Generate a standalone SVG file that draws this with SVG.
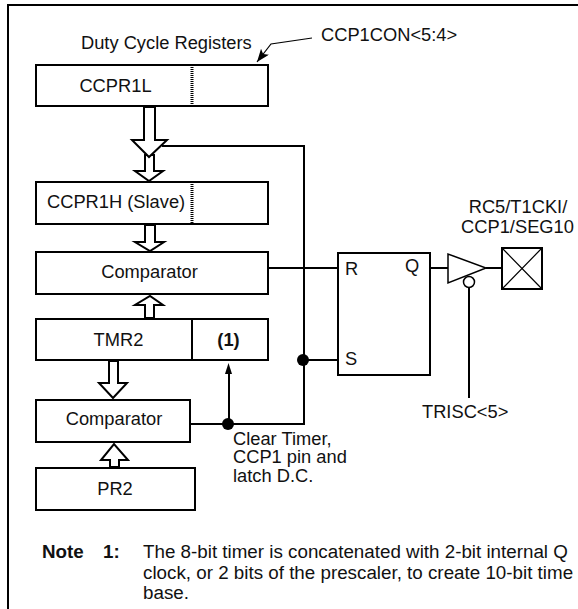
<svg xmlns="http://www.w3.org/2000/svg" width="578" height="609" viewBox="0 0 578 609">
<defs>
<marker id="ah" markerUnits="userSpaceOnUse" markerWidth="14" markerHeight="12" refX="13" refY="5" orient="auto"><path d="M0 0L13 5L0 10L3 5Z" fill="#000"/></marker>
</defs>
<style>
text{font-family:"Liberation Sans",Arial,sans-serif;font-size:18.3px;fill:#111}
.b{fill:#fff;stroke:#000;stroke-width:2}
.l{fill:none;stroke:#000;stroke-width:2}
.t{fill:none;stroke:#000;stroke-width:1.200}
.a{fill:#fff;stroke:#000;stroke-width:2}
.d{fill:none;stroke:#000;stroke-width:3;stroke-dasharray:1 1}
.m{text-anchor:middle}
.bold{font-weight:bold}
.n{font-size:18.800px}
</style>
<rect width="578" height="609" fill="#fff"/>
<path id="frame" class="l" d="M8 609V5H578"/>
<text x="81" y="49">Duty Cycle Registers</text>
<text x="321" y="41">CCP1CON&lt;5:4&gt;</text>
<g id="connectors">
<path class="t" d="M312 38L271 44L257 62" marker-end="url(#ah)"/>
<path class="l" d="M162 146H304V424H229"/>
<path class="l" d="M268 268H338"/>
<path class="l" d="M304 360H338"/>
<path class="l" d="M188 424H229"/>
<path class="l" d="M229 424V370"/>
<path d="M228.500 363L225 374H232Z" fill="#000"/>
<circle cx="228" cy="424" r="6" fill="#000"/>
<circle cx="303" cy="360" r="6" fill="#000"/>
<path class="l" d="M430 268H448"/>
<path class="l" d="M486 268H502"/>
<path class="l" d="M469 288V398"/>
<path class="a" d="M145 171V155H154V171H163L149 181L135 171Z"/>
<path class="a" d="M144 107V140H132L149 157L167 140H155V107Z"/>
<path class="a" d="M145 225V242H135L150 251L164 242H155V225Z"/>
<path class="a" d="M145 318V305H135L150 296L163 305H154V318Z"/>
<path class="a" d="M109 361V383H99L113 398L127 383H118V361Z"/>
<path class="a" d="M110 467V460H101L114 444L128 460H119V467Z"/>
</g>
<g id="ccpr1l"><rect class="b" x="36" y="65" width="232" height="41"/><path class="d" d="M192 65V106"/><text class="m" x="115.500" y="92">CCPR1L</text></g>
<g id="ccpr1h"><rect class="b" x="36" y="182" width="232" height="42"/><path class="d" d="M192 182V224"/><text x="47" y="208">CCPR1H (Slave)</text></g>
<g id="comparator1"><rect class="b" x="36" y="252" width="232" height="42"/><text class="m" x="149.500" y="278">Comparator</text></g>
<g id="tmr2"><rect class="b" x="36" y="319" width="232" height="41"/><path class="l" d="M192 319V360"/><text class="m" x="118.500" y="346">TMR2</text><text class="m bold" x="228.500" y="346">(1)</text></g>
<g id="comparator2"><rect class="b" x="36" y="400" width="154" height="42"/><text class="m" x="114" y="425">Comparator</text></g>
<g id="pr2"><rect class="b" x="36" y="468" width="159" height="42"/><text class="m" x="115" y="495">PR2</text></g>
<g id="latch"><rect class="b" x="338" y="253" width="92" height="122"/><text x="345" y="275">R</text><text x="405" y="272">Q</text><text x="345" y="365">S</text></g>
<g id="buffer"><path d="M448 254V283L486 268Z" fill="#fff" stroke="#000" stroke-width="1.500"/><circle cx="469" cy="282" r="5.500" fill="#fff" stroke="#000" stroke-width="1.500"/></g>
<g id="pin"><rect class="b" x="502" y="248" width="40" height="41"/><path class="t" d="M502 248L542 289M542 248L502 289"/></g>
<text class="m" x="518" y="213">RC5/T1CKI/</text>
<text class="m" x="517.500" y="233">CCP1/SEG10</text>
<text x="422" y="418">TRISC&lt;5&gt;</text>
<text x="233" y="445">Clear Timer,</text>
<text x="233" y="463">CCP1 pin and</text>
<text x="233" y="482">latch D.C.</text>
<text class="bold n" x="42" y="558">Note</text><text class="bold n" x="103" y="558">1:</text>
<text class="n" x="143" y="558">The 8-bit timer is concatenated with 2-bit internal Q</text>
<text class="n" x="143" y="579">clock, or 2 bits of the prescaler, to create 10-bit time</text>
<text class="n" x="143" y="599">base.</text>
</svg>
